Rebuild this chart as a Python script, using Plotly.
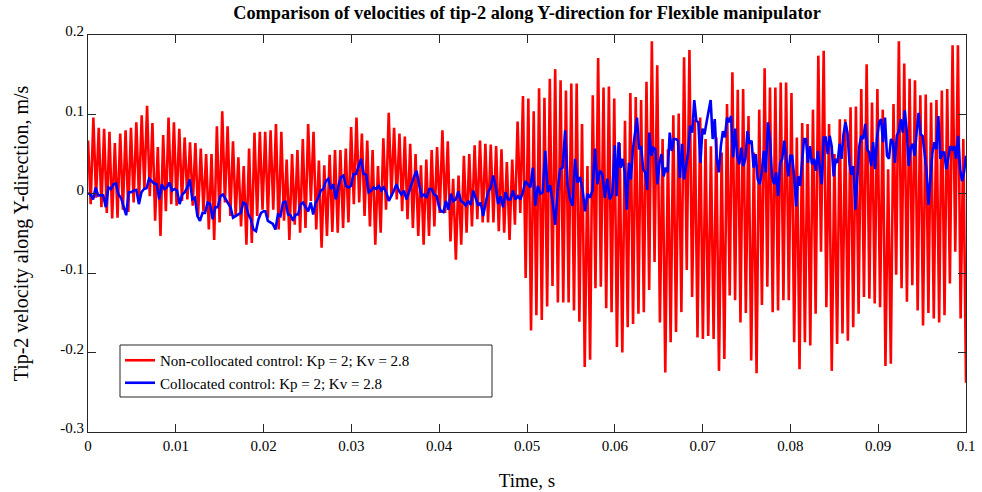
import numpy as np
import plotly.graph_objects as go

# ---------------- data ----------------
title_text = "Comparison of velocities of tip-2 along Y-direction for Flexible manipulator"
x_title = "Time, s"
y_title = "Tip-2 velocity along Y-direction, m/s"
red_name = "Non-collocated control: Kp = 2; Kv = 2.8"
blue_name = "Collocated control: Kp = 2; Kv = 2.8"

x_tickvals = [0, 0.01, 0.02, 0.03, 0.04, 0.05, 0.06, 0.07, 0.08, 0.09, 0.1]
x_ticktext = ["0", "0.01", "0.02", "0.03", "0.04", "0.05", "0.06", "0.07", "0.08", "0.09", "0.1"]
y_tickvals = [0.2, 0.1, 0, -0.1, -0.2, -0.3]
y_ticktext = ["0.2", "0.1", "0", "-0.1", "-0.2", "-0.3"]

# Red (non-collocated): successive peaks and troughs of the oscillation
red_peaks = [
    0.067, 0.096, 0.083, 0.082, 0.078, 0.064, 0.076, 0.080, 0.083, 0.090, 0.099, 0.111, 0.089, 0.059, 0.074, 0.096,
    0.090, 0.082, 0.071, 0.065, 0.064, 0.057, 0.050, 0.050, 0.085, 0.104, 0.085, 0.066, 0.046, 0.035, 0.057, 0.077,
    0.078, 0.078, 0.080, 0.088, 0.078, 0.043, 0.050, 0.055, 0.069, 0.088, 0.078, 0.042, 0.036, 0.049, 0.055, 0.055,
    0.057, 0.084, 0.096, 0.076, 0.067, 0.055, 0.035, 0.070, 0.102, 0.083, 0.076, 0.072, 0.063, 0.050, 0.036, 0.043, 0.055,
    0.059, 0.080, 0.066, 0.019, 0.023, 0.048, 0.050, 0.061, 0.067, 0.063, 0.062, 0.060, 0.056, 0.040, 0.043, 0.091,
    0.123, 0.120, 0.104, 0.133, 0.121, 0.145, 0.157, 0.143, 0.130, 0.139, 0.139, 0.088, 0.035, 0.124, 0.171, 0.134, 0.135,
    0.120, 0.064, 0.092, 0.127, 0.122, 0.118, 0.141, 0.192, 0.162, 0.069, 0.056, 0.099, 0.101, 0.172, 0.181, 0.094,
    0.096, 0.069, 0.060, 0.071, 0.052, 0.113, 0.153, 0.131, 0.132, 0.098, 0.052, 0.106, 0.158, 0.134, 0.134, 0.140, 0.140,
    0.127, 0.071, 0.089, 0.088, 0.106, 0.174, 0.180, 0.088, 0.050, 0.094, 0.094, 0.109, 0.110, 0.132, 0.163, 0.115,
    0.132, 0.106, 0.031, 0.113, 0.192, 0.164, 0.145, 0.143, 0.124, 0.125, 0.115, 0.118, 0.130, 0.132, 0.187, 0.187, 0.069,
]
red_troughs = [
    -0.013, -0.005, -0.017, -0.024, -0.031, -0.030, -0.020, -0.023, -0.011, -0.007, 0.006, -0.003, -0.034, -0.053, -0.022, -0.013,
    -0.015, -0.009, -0.007, -0.015, -0.028, -0.022, -0.045, -0.058, -0.036, -0.011, -0.028, -0.028, -0.041, -0.064, -0.062, -0.028,
    -0.020, -0.030, -0.020, -0.045, -0.034, -0.058, -0.039, -0.049, -0.043, -0.009, -0.045, -0.068, -0.053, -0.048, -0.049, -0.043,
    -0.036, -0.013, -0.011, -0.028, -0.041, -0.064, -0.049, -0.020, -0.003, -0.007, -0.022, -0.032, -0.043, -0.053, -0.064, -0.053, -0.041,
    -0.024, -0.024, -0.060, -0.083, -0.064, -0.049, -0.041, -0.032, -0.036, -0.036, -0.036, -0.047, -0.049, -0.058, -0.039, -0.024,
    -0.106, -0.172, -0.153, -0.159, -0.142, -0.116, -0.137, -0.137, -0.137, -0.147, -0.161, -0.218, -0.209, -0.119, -0.117, -0.144, -0.149,
    -0.193, -0.200, -0.168, -0.164, -0.151, -0.149, -0.121, -0.086, -0.162, -0.225, -0.187, -0.174, -0.149, -0.096, -0.130, -0.181,
    -0.183, -0.179, -0.183, -0.223, -0.208, -0.128, -0.134, -0.162, -0.150, -0.210, -0.226, -0.140, -0.117, -0.149, -0.147, -0.134, -0.134,
    -0.187, -0.221, -0.187, -0.191, -0.151, -0.073, -0.143, -0.223, -0.189, -0.176, -0.185, -0.168, -0.151, -0.130, -0.132, -0.138,
    -0.143, -0.217, -0.214, -0.102, -0.119, -0.136, -0.115, -0.147, -0.166, -0.150, -0.157, -0.162, -0.153, -0.113, -0.073, -0.157, -0.238,
]

# Blue (collocated): samples read in five consecutive time windows
blue_windows = [(0.0, 0.0200), (0.0202, 0.0400), (0.0402, 0.0600), (0.0602, 0.0800), (0.0802, 0.1)]
blue_w1 = [0.001, -0.001, -0.007, 0.008, -0.002, -0.002, -0.002, -0.017, 0.008, 0.006, 0.012, 0.013, -0.001, -0.005,
           -0.015, -0.027, 0.002, 0.002, 0.004, 0.005, -0.013, 0.002, 0.006, 0.007, 0.019, 0.016, 0.013, 0.012, -0.007,
           0.012, 0.006, 0.008, 0.014, 0.004, 0.006, 0.004, -0.013, -0.001, 0.002, 0.008, 0.018, -0.007, -0.005, -0.028,
           -0.034, -0.024, -0.024, -0.011, -0.013, -0.032, -0.017, -0.017, -0.003, -0.001, -0.007, -0.011, -0.017, -0.030,
           -0.028, -0.027, -0.024, -0.011, -0.013, -0.026, -0.032, -0.045, -0.047, -0.032, -0.024, -0.022]
blue_w2 = [-0.022, -0.034, -0.036, -0.038, -0.045, -0.026, -0.028, -0.011, -0.010, -0.026, -0.027, -0.034, -0.026, -0.026,
           -0.013, -0.011, -0.017, -0.022, -0.011, -0.026, -0.011, -0.005, 0.004, 0.006, 0.016, 0.019, 0.006, 0.012, -0.007,
           0.010, 0.021, 0.023, 0.010, 0.008, 0.010, 0.025, 0.025, 0.035, 0.044, 0.025, 0.024, 0.002, 0.004, 0.008, 0.006,
           0.010, 0.004, 0.008, 0.002, -0.009, -0.003, 0.004, 0.012, 0.004, -0.001, 0.004, -0.007, 0.004, 0.012, 0.021,
           0.029, 0.012, -0.003, -0.001, -0.005, 0.006, 0.006, -0.001, -0.003, -0.017]
blue_w3 = [-0.022, -0.023, -0.009, -0.020, 0.000, -0.009, -0.007, 0.003, -0.009, -0.011, -0.015, -0.009, -0.014, 0.004,
           -0.005, -0.015, -0.011, -0.028, -0.011, 0.002, 0.008, 0.023, 0.010, -0.013, -0.003, -0.017, 0.002, -0.007,
           -0.007, 0.004, -0.007, -0.003, -0.007, 0.002, 0.016, 0.012, 0.008, 0.033, -0.015, 0.010, 0.000, 0.002, 0.054,
           0.002, 0.011, -0.011, -0.039, 0.004, 0.031, 0.033, 0.080, 0.012, -0.007, -0.015, 0.044, 0.014, 0.021, 0.006,
           -0.022, 0.000, -0.005, 0.004, 0.057, 0.012, 0.029, 0.025, -0.005, 0.019, -0.007, 0.000, 0.061]
blue_w4 = [-0.003, 0.065, 0.033, 0.044, 0.027, -0.020, 0.039, 0.018, 0.056, 0.073, 0.096, 0.056, 0.060, 0.031, 0.027,
           0.005, 0.077, 0.048, 0.058, 0.056, 0.012, 0.039, 0.050, 0.022, 0.033, 0.027, 0.077, 0.054, 0.069, 0.069, 0.067,
           0.020, 0.063, 0.018, 0.033, 0.052, 0.086, 0.077, 0.118, 0.092, 0.090, 0.039, 0.082, 0.075, 0.090, 0.103, 0.118,
           0.069, 0.094, 0.044, 0.027, 0.060, 0.079, 0.071, 0.096, 0.090, 0.098, 0.046, 0.082, 0.048, 0.037, 0.058, 0.035,
           0.044, 0.079, 0.063, 0.067, 0.033, 0.050, 0.018, 0.012, 0.027, 0.054, 0.027, 0.090, 0.069, 0.022, 0.012, 0.027,
           -0.003, 0.039, 0.044, 0.067, 0.044, 0.022, 0.048]
blue_w5 = [0.048, 0.022, -0.016, 0.022, 0.010, 0.039, 0.069, 0.069, 0.039, 0.060, 0.037, 0.044, 0.029, 0.054, 0.035,
           0.012, 0.071, 0.071, 0.050, 0.073, 0.060, 0.022, 0.044, 0.039, 0.063, 0.044, 0.075, 0.090, 0.077, 0.039, 0.024,
           0.035, -0.020, 0.022, 0.060, 0.073, 0.069, 0.088, 0.056, 0.052, 0.035, 0.065, 0.031, 0.071, 0.090, 0.094, 0.065,
           0.096, 0.048, 0.044, 0.069, 0.065, 0.039, 0.073, 0.079, 0.094, 0.077, 0.105, 0.079, 0.035, 0.058, 0.063, 0.048,
           0.077, 0.102, 0.075, 0.073, 0.052, 0.029, -0.014, 0.022, 0.052, 0.065, 0.056, 0.098, 0.044, 0.052, 0.052, 0.031,
           0.044, 0.060, 0.056, 0.060, 0.044, 0.073, 0.031, 0.016, 0.027, 0.048]

# ---------------- build series ----------------
red_v = []
for p, t in zip(red_peaks, red_troughs):
    red_v += [p, t]
red_t = np.linspace(0, 0.1, len(red_v))

blue_t, blue_v = [], []
for (t0, t1), vals in zip(blue_windows, [blue_w1, blue_w2, blue_w3, blue_w4, blue_w5]):
    blue_t += list(np.linspace(t0, t1, len(vals)))
    blue_v += vals

FONT = "Liberation Serif"
AX = "#262626"
W, H = 982, 492
ML, MR, MT, MB = 88, 16, 35, 60
PW, PH = W - ML - MR, H - MT - MB

fig = go.Figure()
fig.add_trace(go.Scatter(x=red_t, y=red_v, mode="lines", name=red_name,
                         line=dict(color="#ff0000", width=2.6)))
fig.add_trace(go.Scatter(x=blue_t, y=blue_v, mode="lines", name=blue_name,
                         line=dict(color="#0000ff", width=2.6)))

axis_common = dict(showgrid=False, zeroline=False, showline=True, linecolor=AX, linewidth=1,
                   mirror="ticks", ticks="inside", ticklen=8, tickcolor=AX, automargin=False,
                   tickfont=dict(family=FONT, size=15, color="black"))

# legend frame (wider than the entries, as in the reference)
lx0, lx1, ly0, ly1 = 120, 492, 345, 397
fig.add_shape(type="rect", xref="paper", yref="paper", layer="above",
              x0=(lx0 - ML) / PW, x1=(lx1 - ML) / PW,
              y0=(H - MB - ly1) / PH, y1=(H - MB - ly0) / PH,
              line=dict(color=AX, width=1), fillcolor="white")

fig.update_layout(
    width=W, height=H,
    margin=dict(l=ML, r=MR, t=MT, b=MB, autoexpand=False),
    paper_bgcolor="white", plot_bgcolor="white",
    font=dict(family=FONT, color="black"),
    title=dict(text="<b>" + title_text + "</b>", x=0.5, xref="paper", y=1 - 13 / H, yref="container",
               yanchor="middle", xanchor="center", font=dict(family=FONT, size=18.3, color="black")),
    xaxis=dict(range=[0, 0.1], tickvals=x_tickvals, ticktext=x_ticktext,
               title=dict(text=x_title, font=dict(family=FONT, size=19), standoff=20), **axis_common),
    yaxis=dict(range=[-0.3, 0.2], tickvals=y_tickvals, ticktext=y_ticktext, ticklabelshift=-4,
               title=dict(text=y_title, font=dict(family=FONT, size=20), standoff=26), **axis_common),
    legend=dict(x=(lx0 - ML) / PW, y=(H - MB - ly0 + 1) / PH, xanchor="left", yanchor="top",
                bgcolor="rgba(0,0,0,0)", borderwidth=0,
                font=dict(family=FONT, size=15, color="black"), tracegroupgap=0),
    showlegend=True,
)

fig.write_html("out.html")
